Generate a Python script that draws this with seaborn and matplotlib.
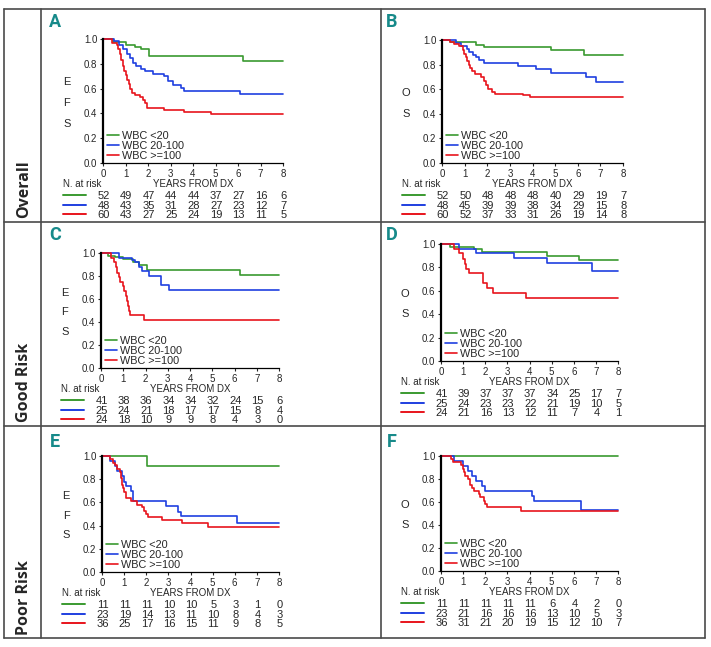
import matplotlib
matplotlib.use("Agg")
import matplotlib.pyplot as plt
import matplotlib.transforms as mtransforms
from matplotlib.lines import Line2D
import pandas as pd
import seaborn as sns

# Step points (years, survival)
A_LT20 = [(0, 1.0), (0.44, 0.973), (1.04, 0.955), (1.44, 0.935), (1.7, 0.92), (2.04, 0.865), (6.22, 0.82), (8, 0.82)]
A_MID = [(0, 1.0), (0.5, 0.98), (0.72, 0.95), (0.88, 0.92), (1.05, 0.88), (1.18, 0.845), (1.32, 0.81),
         (1.45, 0.78), (1.7, 0.76), (1.88, 0.74), (2.2, 0.72), (2.7, 0.70), (2.88, 0.66), (3.1, 0.63),
         (3.45, 0.605), (3.6, 0.58), (6.07, 0.555), (8, 0.555)]
A_HI = [(0, 1.0), (0.42, 0.97), (0.6, 0.95), (0.68, 0.92), (0.75, 0.88), (0.82, 0.83), (0.88, 0.78),
        (0.95, 0.74), (1.02, 0.71), (1.08, 0.67), (1.15, 0.64), (1.22, 0.60), (1.3, 0.565), (1.42, 0.545),
        (1.65, 0.53), (1.78, 0.51), (1.88, 0.48), (1.97, 0.445), (2.7, 0.43), (3.6, 0.41), (4.8, 0.395), (8, 0.395)]

B_LT20 = [(0, 1.0), (0.35, 0.98), (1.5, 0.96), (1.85, 0.94), (4.8, 0.915), (6.27, 0.88), (8, 0.88)]
B_MID = [(0, 1.0), (0.62, 0.975), (0.85, 0.955), (1.1, 0.93), (1.2, 0.90), (1.35, 0.88), (1.5, 0.86),
         (1.65, 0.835), (1.85, 0.81), (3.35, 0.79), (4.15, 0.765), (4.8, 0.73), (6.35, 0.70), (6.8, 0.66), (8, 0.66)]
B_HI = [(0, 1.0), (0.35, 0.98), (0.55, 0.965), (0.75, 0.95), (0.92, 0.92), (0.98, 0.89), (1.05, 0.86),
        (1.12, 0.83), (1.18, 0.80), (1.25, 0.77), (1.32, 0.745), (1.45, 0.725), (1.72, 0.70), (1.85, 0.67),
        (1.95, 0.635), (2.05, 0.605), (2.2, 0.58), (2.35, 0.565), (3.6, 0.55), (3.9, 0.535), (8, 0.535)]

C_LT20 = [(0, 1.0), (0.3, 0.976), (0.65, 0.963), (1.0, 0.95), (1.45, 0.925), (1.7, 0.90), (2.08, 0.855), (6.23, 0.81), (8, 0.81)]
C_MID = [(0, 1.0), (0.8, 0.96), (1.4, 0.94), (1.55, 0.92), (1.7, 0.88), (1.85, 0.84), (2.15, 0.80),
         (2.7, 0.72), (3.05, 0.68), (8, 0.68)]
C_HI = [(0, 1.0), (0.45, 0.96), (0.6, 0.92), (0.68, 0.875), (0.72, 0.83), (0.8, 0.79), (0.85, 0.75),
        (0.98, 0.71), (1.05, 0.67), (1.12, 0.625), (1.17, 0.58), (1.2, 0.54), (1.25, 0.50), (1.3, 0.46),
        (1.93, 0.42), (8, 0.42)]

D_LT20 = [(0, 1.0), (0.4, 0.975), (1.5, 0.96), (1.85, 0.93), (4.8, 0.90), (6.23, 0.86), (8, 0.86)]
D_MID = [(0, 1.0), (0.8, 0.96), (1.6, 0.92), (3.3, 0.88), (4.8, 0.84), (6.82, 0.77), (8, 0.77)]
D_HI = [(0, 1.0), (0.6, 0.96), (0.8, 0.92), (1.0, 0.875), (1.08, 0.83), (1.15, 0.79), (1.25, 0.75),
        (1.9, 0.665), (2.1, 0.62), (2.35, 0.58), (3.85, 0.54), (8, 0.54)]

E_LT20 = [(0, 1.0), (2.05, 0.91), (8, 0.91)]
E_MID = [(0, 1.0), (0.35, 0.957), (0.6, 0.913), (0.7, 0.87), (0.9, 0.83), (1.0, 0.78), (1.1, 0.74),
         (1.3, 0.70), (1.4, 0.61), (2.9, 0.57), (3.45, 0.52), (3.55, 0.48), (6.08, 0.42), (8, 0.42)]
E_HI = [(0, 1.0), (0.35, 0.97), (0.5, 0.94), (0.6, 0.92), (0.7, 0.89), (0.8, 0.86), (0.85, 0.81),
        (0.9, 0.75), (0.95, 0.72), (1.0, 0.69), (1.1, 0.64), (1.3, 0.61), (1.6, 0.58), (1.8, 0.56),
        (1.9, 0.53), (2.0, 0.50), (2.1, 0.47), (2.7, 0.45), (3.6, 0.42), (4.8, 0.39), (8, 0.39)]

F_LT20 = [(0, 1.0), (8, 1.0)]
F_MID = [(0, 1.0), (0.6, 0.957), (1.0, 0.913), (1.2, 0.87), (1.4, 0.83), (1.6, 0.78), (1.85, 0.74),
         (2.0, 0.70), (4.1, 0.65), (4.2, 0.61), (6.35, 0.53), (8, 0.53)]
F_HI = [(0, 1.0), (0.45, 0.97), (0.55, 0.945), (0.9, 0.92), (1.0, 0.89), (1.05, 0.86), (1.1, 0.83),
        (1.2, 0.80), (1.3, 0.75), (1.4, 0.72), (1.5, 0.70), (1.7, 0.67), (1.75, 0.64), (1.95, 0.61),
        (2.0, 0.58), (2.1, 0.555), (3.6, 0.525), (8, 0.525)]

# Numbers at risk at years 0..8
RISK_A = [[52, 49, 47, 44, 44, 37, 27, 16, 6], [48, 43, 35, 31, 28, 27, 23, 12, 7], [60, 43, 27, 25, 24, 19, 13, 11, 5]]
RISK_B = [[52, 50, 48, 48, 48, 40, 29, 19, 7], [48, 45, 39, 39, 38, 34, 29, 15, 8], [60, 52, 37, 33, 31, 26, 19, 14, 8]]
RISK_C = [[41, 38, 36, 34, 34, 32, 24, 15, 6], [25, 24, 21, 18, 17, 17, 15, 8, 4], [24, 18, 10, 9, 9, 8, 4, 3, 0]]
RISK_D = [[41, 39, 37, 37, 37, 34, 25, 17, 7], [25, 24, 23, 23, 22, 21, 19, 10, 5], [24, 21, 16, 13, 12, 11, 7, 4, 1]]
RISK_E = [[11, 11, 11, 10, 10, 5, 3, 1, 0], [23, 19, 14, 13, 11, 10, 8, 4, 3], [36, 25, 17, 16, 15, 11, 9, 8, 5]]
RISK_F = [[11, 11, 11, 11, 11, 6, 4, 2, 0], [23, 21, 16, 16, 16, 13, 10, 5, 3], [36, 31, 21, 20, 19, 15, 12, 10, 7]]

YEARS = list(range(0, 9))
GROUPS = ["WBC <20", "WBC 20-100", "WBC >=100"]
COLORS = {"WBC <20": "#3a9a30", "WBC 20-100": "#1f3fe0", "WBC >=100": "#e8141c"}
ROW_LABELS = ["Overall", "Good Risk", "Poor Risk"]

W, H = 711, 647

# panel: (curves, risk, y letters, box in pixels (left, top, right, bottom))
panels = {
    "A": ([A_LT20, A_MID, A_HI], RISK_A, "EFS", (103, 39, 283, 163)),
    "B": ([B_LT20, B_MID, B_HI], RISK_B, "OS", (442, 40, 623, 163)),
    "C": ([C_LT20, C_MID, C_HI], RISK_C, "EFS", (101, 253, 279, 368)),
    "D": ([D_LT20, D_MID, D_HI], RISK_D, "OS", (441, 244, 618, 361)),
    "E": ([E_LT20, E_MID, E_HI], RISK_E, "EFS", (102, 456, 279, 572)),
    "F": ([F_LT20, F_MID, F_HI], RISK_F, "OS", (441, 456, 618, 571)),
}
letter_pos = {"A": (55, 22), "B": (392, 22), "C": (55, 235), "D": (392, 235), "E": (55, 442), "F": (392, 442)}

sns.set_style("white")
plt.rcParams["font.family"] = ["Liberation Sans", "DejaVu Sans"]

fig = plt.figure(figsize=(W / 100, H / 100), dpi=100)

PX = 0.72  # points per pixel at dpi 100

for name, (curves, risk, ylab, box) in panels.items():
    l, t, r, b = box
    ax = fig.add_axes([l / W, 1 - b / H, (r - l) / W, (b - t) / H])
    aw, ah = r - l, b - t

    frames = []
    for grp, pts in zip(GROUPS, curves):
        frames.append(pd.DataFrame({"year": [p[0] for p in pts], "surv": [p[1] for p in pts], "group": grp}))
    df = pd.concat(frames, ignore_index=True)

    sns.lineplot(data=df, x="year", y="surv", hue="group", palette=COLORS, estimator=None,
                 drawstyle="steps-post", linewidth=1.2, ax=ax, clip_on=False)

    ax.set_xlim(0, 8)
    ax.set_ylim(0, 1.0)
    ax.set_xticks(YEARS)
    ax.set_yticks([0, 0.2, 0.4, 0.6, 0.8, 1.0])
    ax.set_yticklabels([f"{v:.1f}" for v in [0, 0.2, 0.4, 0.6, 0.8, 1.0]])
    ax.set_xlabel("")
    ax.set_ylabel("")
    ax.tick_params(axis="both", labelsize=7, length=2.5, width=0.8, pad=1.5, direction="out",
                   bottom=True, left=True)
    for s in ["top", "right"]:
        ax.spines[s].set_visible(False)
    ax.spines["left"].set_linewidth(1.6)
    ax.spines["bottom"].set_linewidth(0.9)
    ax.spines["left"].set_color("black")
    ax.spines["bottom"].set_color("black")

    ax.legend(handles=ax.get_legend_handles_labels()[0], labels=GROUPS, loc="lower left",
              bbox_to_anchor=(0.01, 0.0), frameon=False, fontsize=7.8, handlelength=1.1,
              handletextpad=0.3, labelspacing=0.0, borderpad=0.1, borderaxespad=0.1)

    # letters of the y label, stacked
    trans = mtransforms.blended_transform_factory(ax.transAxes, ax.transData)
    ys = [0.655, 0.485, 0.315] if ylab == "EFS" else [0.57, 0.40]
    for ch, yv in zip(ylab, ys):
        ax.text(-36 / aw, yv, ch, transform=trans, ha="center", va="center", fontsize=8)

    # number at risk table
    ax.annotate("N. at risk", xy=(0, 0), xycoords="axes fraction", xytext=(-40 * PX, -21 * PX),
                textcoords="offset points", ha="left", va="center", fontsize=7, annotation_clip=False)
    ax.annotate("YEARS FROM DX", xy=(4, 0), xycoords=("data", "axes fraction"), xytext=(0, -21 * PX),
                textcoords="offset points", ha="center", va="center", fontsize=7, annotation_clip=False)
    row_off = [33, 43, 52]
    for grp, counts, off in zip(GROUPS, risk, row_off):
        for yr, n in zip(YEARS, counts):
            ax.annotate(str(n), xy=(yr, 0), xycoords=("data", "axes fraction"), xytext=(0.5, -off * PX),
                        textcoords="offset points", ha="center", va="center", fontsize=8,
                        annotation_clip=False)
        ax.plot([-40 / aw, -17 / aw], [-(off - 1) / ah, -(off - 1) / ah], transform=ax.transAxes,
                color=COLORS[grp], linewidth=1.4, clip_on=False)

    lx, ly = letter_pos[name]
    fig.text(lx / W, 1 - ly / H, name, color="#178a8a", fontsize=13, fontweight="bold",
             ha="center", va="center", family="Roboto")

# row labels
for lab, yc in zip(ROW_LABELS, [189, 382, 598]):
    fig.text(24 / W, 1 - yc / H, lab, rotation=90, ha="center", va="center", fontsize=11.5,
             fontweight="bold", family="Open Sans")

# frame lines
frame_col = "#4a4a4a"
segs = [((4, 9), (705, 9)), ((4, 638), (705, 638)), ((4, 9), (4, 638)), ((705, 9), (705, 638)),
        ((41, 9), (41, 638)), ((381, 9), (381, 638)), ((4, 222), (705, 222)), ((4, 426), (705, 426))]
for (x0, y0), (x1, y1) in segs:
    fig.add_artist(Line2D([x0 / W, x1 / W], [1 - y0 / H, 1 - y1 / H], transform=fig.transFigure,
                          color=frame_col, linewidth=1.2))

fig.savefig("out.png", dpi=100)
